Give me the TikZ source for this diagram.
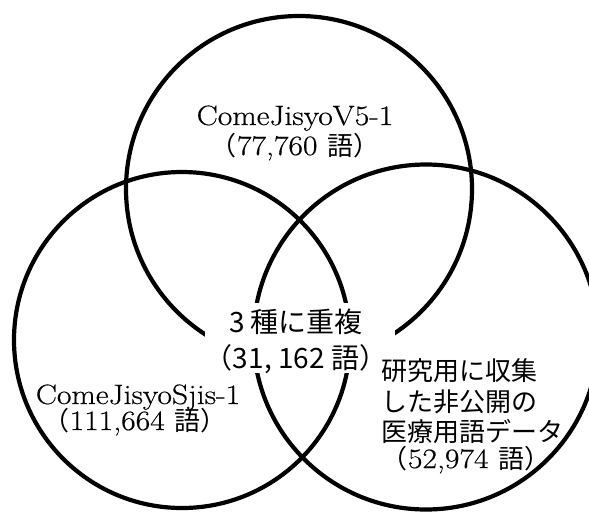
\documentclass[tikz,border=0pt]{standalone}
\usepackage{fontspec}
\newfontfamily\cjk{Noto Sans CJK JP}
\newfontfamily\latf{Latin Modern Roman}[FakeStretch=1.13,FakeBold=0.5]
\newcommand\jz[1]{{\cjk\fontsize{26}{30}\selectfont #1}}
\begin{document}
\begin{tikzpicture}[x=1pt,y=-1pt,
  ring/.style={line width=4.2pt, draw=black},
  lat/.style={inner sep=0pt, anchor=base, font=\latf\fontsize{28}{30}\selectfont},
  jp/.style={inner sep=0pt, anchor=base west, font=\fontsize{26}{30}\selectfont\cjk},
  ctr/.style={inner sep=0pt, anchor=base, font=\fontsize{28}{32}\selectfont\cjk},
  hidebox/.style={fill=white, draw=none, inner sep=0pt, minimum width=190pt, minimum height=70pt}]
\useasboundingbox (0,0) rectangle (589,512);
\fill[white] (0,0) rectangle (589,512);
\coordinate (ct) at (299,189);
\coordinate (cl) at (182,340);
\coordinate (cr) at (426,337);
\draw[ring] (ct) circle[radius=173];
\draw[ring] (cl) circle[radius=168];
\draw[ring] (cr) circle[radius=172.5];
\node[hidebox] (hide) at (300,338) {};
% top set
\node[lat] (t1) at (295,125) {ComeJisyoV5-1};
\node[lat] (t2) at (295,155) {\jz{（}77,760 \jz{語）}};
% left set
\node[lat] (l1) at (138,404) {ComeJisyoSjis-1};
\node[lat] (l2) at (135,430) {\jz{（}111,664 \jz{語）}};
% right set
\node[jp] (r1) at (381,380) {研究用に収集};
\node[jp] (r2) at (381,411) {した非公開の};
\node[jp] (r3) at (381,441) {医療用語データ};
\node[lat] (r4) at (466,468) {\jz{（}52,974 \jz{語）}};
% centre
\node[ctr] (c1) at (296,332) {3 種に重複};
\node[ctr] (c2) at (296,368) {（31, 162 語）};
\end{tikzpicture}
\end{document}
